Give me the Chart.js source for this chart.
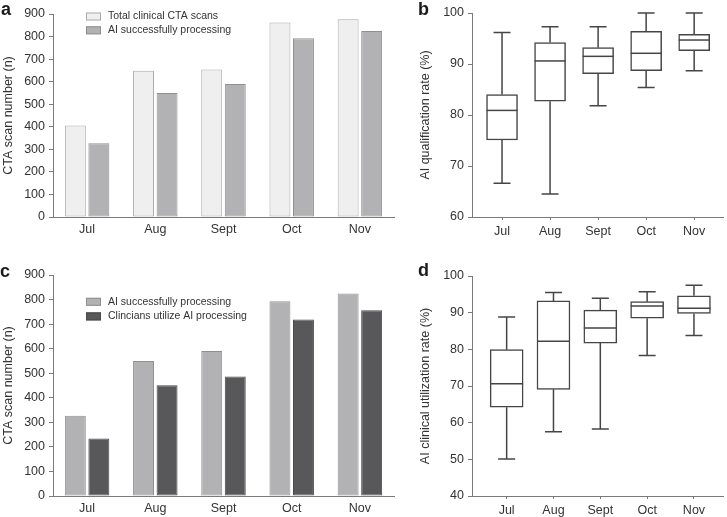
<!DOCTYPE html>
<html>
<head>
<meta charset="utf-8">
<script src="https://cdn.jsdelivr.net/npm/chart.js@4.4.1/dist/chart.umd.min.js"></script>
<style>
  body { margin: 0; background: #fff; width: 727px; height: 517px; position: relative; overflow: hidden; }
  .panel { position: absolute; }
  .tag { position: absolute; font: bold 18px "Liberation Sans", Arial, sans-serif; line-height: 18px; color: #1a1a1a; }
</style>
</head>
<body>
<div class="panel" style="left:0;top:0"><canvas id="chartA" width="400" height="258"></canvas></div>
<div class="panel" style="left:370px;top:0"><canvas id="chartB" width="357" height="258"></canvas></div>
<div class="panel" style="left:0;top:260px"><canvas id="chartC" width="400" height="257"></canvas></div>
<div class="panel" style="left:370px;top:260px"><canvas id="chartD" width="357" height="257"></canvas></div>
<div class="tag" style="left:1px;top:0">a</div>
<div class="tag" style="left:418px;top:0">b</div>
<div class="tag" style="left:0;top:262px">c</div>
<div class="tag" style="left:418px;top:261px">d</div>

<script>
const months = ['Jul', 'Aug', 'Sept', 'Oct', 'Nov'];

// scan counts (a, c)
const totalScans = [406, 648, 654, 862, 877];
const aiProcessed = [327, 550, 590, 793, 825];
const clinicianUse = [234, 451, 487, 719, 756];

// AI qualification rate (%) - box plot (b)
const qualMin = [66.6, 64.5, 81.8, 85.4, 88.7];
const qualQ1 = [75.1, 82.7, 88.1, 88.7, 92.6];
const qualMed = [80.9, 90.6, 91.5, 92.1, 94.7];
const qualQ3 = [84.0, 94.2, 93.2, 96.4, 95.8];
const qualMax = [96.2, 97.3, 97.3, 100, 100];

// AI clinical utilization rate (%) - box plot (d)
const utilMin = [50.1, 57.5, 58.3, 78.3, 83.8];
const utilQ1 = [64.2, 69.1, 81.7, 88.5, 89.8];
const utilMed = [70.6, 82.2, 85.8, 91.8, 91.2];
const utilQ3 = [79.9, 93.2, 90.7, 93.0, 94.6];
const utilMax = [88.8, 95.5, 93.9, 95.7, 97.5];

const axisColor = '#7a7a7a';
const boxColor = '#454545';

Chart.defaults.font.family = '"Liberation Sans", Arial, sans-serif';
Chart.defaults.font.size = 12;
Chart.defaults.color = '#333';

// legend drawn inside the plot, stacked
function makeLegend(x, y, rowGap) {
    return {
        id: 'boxLegend',
        afterDraw(chart) {
            const ctx = chart.ctx;
            ctx.save();
            ctx.font = '10.5px "Liberation Sans", Arial, sans-serif';
            ctx.textBaseline = 'middle';
            chart.data.datasets.forEach((ds, i) => {
                const cy = y + i * rowGap;
                ctx.fillStyle = ds.backgroundColor;
                ctx.fillRect(x, cy - 4, 15, 8);
                ctx.strokeStyle = ds.borderColor;
                ctx.lineWidth = 1;
                ctx.strokeRect(x + 0.5, cy - 3.5, 14, 7);
                ctx.fillStyle = '#333';
                ctx.fillText(ds.label, x + 22, cy);
            });
            ctx.restore();
        }
    };
}

function barChart(id, sets, pad, xHeight, legend) {
    return new Chart(document.getElementById(id), {
        type: 'bar',
        data: {
            labels: months,
            datasets: sets.map(s => ({
                label: s.label,
                data: s.data,
                backgroundColor: s.fill,
                borderColor: s.line,
                borderWidth: 1,
                borderSkipped: false,
                categoryPercentage: 0.69,
                barPercentage: 0.89
            }))
        },
        options: {
            responsive: false,
            animation: false,
            layout: { padding: pad },
            plugins: { legend: { display: false }, tooltip: { enabled: false } },
            scales: {
                x: {
                    grid: { drawOnChartArea: false, drawTicks: false, color: axisColor },
                    border: { color: axisColor },
                    ticks: { padding: 5, font: { size: 12.5 } },
                    afterFit: s => { s.height = xHeight; }
                },
                y: {
                    min: 0, max: 900,
                    grid: { drawOnChartArea: false, tickLength: 4, color: axisColor },
                    border: { color: axisColor },
                    ticks: { stepSize: 100, padding: 4, font: { size: 12.5 } },
                    title: { display: true, text: 'CTA scan number (n)', font: { size: 12.5 }, padding: { top: 1, bottom: 0 } },
                    afterFit: s => { s.width = 53; }
                }
            }
        },
        plugins: [legend]
    });
}

// whiskers and medians for the box plots
function makeWhiskers(lo, med, hi, boxW, capW) {
    return {
        id: 'whiskers',
        beforeDatasetsDraw(chart) {
            const ctx = chart.ctx, xs = chart.scales.x, ys = chart.scales.y;
            const q = chart.data.datasets[0].data;
            ctx.save();
            ctx.strokeStyle = boxColor;
            ctx.lineWidth = 1.5;
            q.forEach((p, i) => {
                const x = xs.getPixelForValue(p.x);
                ctx.beginPath();
                ctx.moveTo(x, ys.getPixelForValue(hi[i]));
                ctx.lineTo(x, ys.getPixelForValue(p.y[1]));
                ctx.moveTo(x, ys.getPixelForValue(p.y[0]));
                ctx.lineTo(x, ys.getPixelForValue(lo[i]));
                ctx.moveTo(x - capW / 2, ys.getPixelForValue(hi[i]));
                ctx.lineTo(x + capW / 2, ys.getPixelForValue(hi[i]));
                ctx.moveTo(x - capW / 2, ys.getPixelForValue(lo[i]));
                ctx.lineTo(x + capW / 2, ys.getPixelForValue(lo[i]));
                ctx.stroke();
            });
            ctx.restore();
        },
        afterDatasetsDraw(chart) {
            const ctx = chart.ctx, xs = chart.scales.x, ys = chart.scales.y;
            ctx.save();
            ctx.strokeStyle = boxColor;
            ctx.lineWidth = 1.5;
            med.forEach((m, i) => {
                const x = xs.getPixelForValue(i);
                const y = ys.getPixelForValue(m);
                ctx.beginPath();
                ctx.moveTo(x - boxW / 2, y);
                ctx.lineTo(x + boxW / 2, y);
                ctx.stroke();
            });
            ctx.restore();
        }
    };
}

function boxChart(id, q1, q3, lo, med, hi, yMin, title, xr, pad, xHeight, boxW) {
    return new Chart(document.getElementById(id), {
        type: 'bar',
        data: {
            datasets: [{
                data: months.map((m, i) => ({ x: i, y: [q1[i], q3[i]] })),
                backgroundColor: '#fff',
                borderColor: boxColor,
                borderWidth: 1.5,
                borderSkipped: false,
                barThickness: boxW
            }]
        },
        options: {
            responsive: false,
            animation: false,
            layout: { padding: pad },
            plugins: { legend: { display: false }, tooltip: { enabled: false } },
            scales: {
                x: {
                    type: 'linear',
                    offset: false,
                    min: xr[0], max: xr[1],
                    afterBuildTicks: s => { s.ticks = months.map((m, i) => ({ value: i })); },
                    grid: { offset: false, drawOnChartArea: false, tickLength: 3, color: axisColor },
                    border: { color: axisColor },
                    ticks: { padding: 4, autoSkip: false, maxRotation: 0, font: { size: 12.5 }, callback: v => months[v] },
                    afterFit: s => { s.height = xHeight; }
                },
                y: {
                    min: yMin, max: 100,
                    grid: { drawOnChartArea: false, tickLength: 4, color: axisColor },
                    border: { color: axisColor },
                    ticks: { stepSize: 10, padding: 4, font: { size: 12.5 } },
                    title: { display: true, text: title, font: { size: 12.5 }, padding: { top: 3, bottom: 0 } },
                    afterFit: s => { s.width = 57; }
                }
            }
        },
        plugins: [makeWhiskers(lo, med, hi, boxW, 17)]
    });
}

barChart('chartA', [
    { label: 'Total clinical CTA scans', data: totalScans, fill: '#efefef', line: '#ababab' },
    { label: 'AI successfully processing', data: aiProcessed, fill: '#b2b2b4', line: '#909092' }
], { top: 14, right: 6 }, 41, makeLegend(86, 16.5, 13.8));

barChart('chartC', [
    { label: 'AI successfully processing', data: aiProcessed, fill: '#b2b2b4', line: '#909092' },
    { label: 'Clincians utilize AI processing', data: clinicianUse, fill: '#58585a', line: '#48484a' }
], { top: 15, right: 6 }, 21, makeLegend(86, 41.8, 14.6));

boxChart('chartB', qualQ1, qualQ3, qualMin, qualMed, qualMax, 60, 'AI qualification rate (%)',
    [-0.625, 4.6], { left: 45, top: 13, right: 4 }, 41, 31);

boxChart('chartD', utilQ1, utilQ3, utilMin, utilMed, utilMax, 40, 'AI clinical utilization rate (%)',
    [-0.74, 4.62], { left: 45, top: 16, right: 4 }, 21, 33);
</script>
</body>
</html>
